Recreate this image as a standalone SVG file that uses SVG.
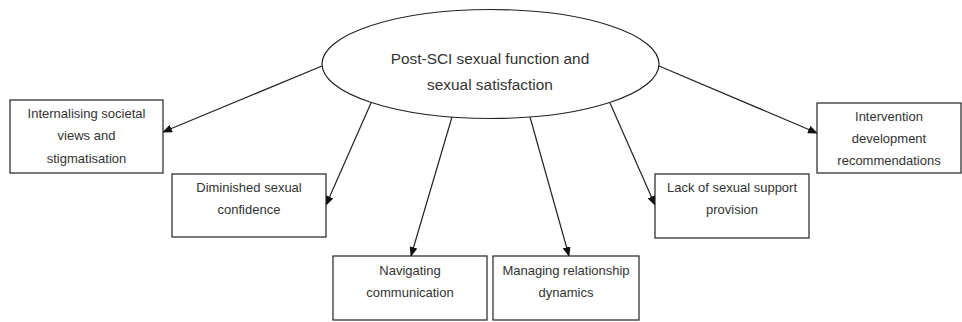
<svg xmlns="http://www.w3.org/2000/svg" width="962" height="322" viewBox="0 0 962 322">
<style>
.box{fill:#fff;stroke:#222;stroke-width:1.2}
.t{font-family:"Liberation Sans",Arial,sans-serif;font-size:13px;fill:#333;text-anchor:middle}
.tm{font-family:"Liberation Sans",Arial,sans-serif;font-size:15.4px;fill:#333;text-anchor:middle}
.c{stroke:#222;stroke-width:1.2;fill:none;marker-end:url(#ah)}
</style>
<defs>
<marker id="ah" markerWidth="10" markerHeight="8" refX="9" refY="4" orient="auto" markerUnits="userSpaceOnUse">
<path d="M0,0 L10,4 L0,8 Z" fill="#111"/>
</marker>
</defs>
<rect width="962" height="322" fill="#fff"/>
<g id="connectors">
<line class="c" x1="322" y1="66" x2="163" y2="132"/>
<line class="c" x1="371" y1="103" x2="326" y2="205"/>
<line class="c" x1="452" y1="117" x2="411" y2="256"/>
<line class="c" x1="530" y1="117" x2="569" y2="256"/>
<line class="c" x1="610" y1="103" x2="655" y2="205"/>
<line class="c" x1="659" y1="66" x2="817" y2="133"/>
</g>
<g id="center">
<ellipse cx="490.5" cy="64" rx="168.5" ry="54.5" fill="#fff" stroke="#222" stroke-width="1.2"/>
<text class="tm" x="490" y="64">Post-SCI sexual function and</text>
<text class="tm" x="490" y="90">sexual satisfaction</text>
</g>
<g id="n1">
<rect class="box" x="10" y="100" width="153" height="73"/>
<text class="t" x="86.5" y="118">Internalising societal</text>
<text class="t" x="86.5" y="140">views and</text>
<text class="t" x="86.5" y="163">stigmatisation</text>
</g>
<g id="n2">
<rect class="box" x="172" y="174" width="154" height="63"/>
<text class="t" x="249" y="192">Diminished sexual</text>
<text class="t" x="249" y="214">confidence</text>
</g>
<g id="n3">
<rect class="box" x="333" y="256" width="154" height="64"/>
<text class="t" x="410" y="275">Navigating</text>
<text class="t" x="410" y="297">communication</text>
</g>
<g id="n4">
<rect class="box" x="493" y="256" width="146" height="64"/>
<text class="t" x="566" y="275">Managing relationship</text>
<text class="t" x="566" y="297">dynamics</text>
</g>
<g id="n5">
<rect class="box" x="655" y="174" width="154" height="64"/>
<text class="t" x="732" y="192">Lack of sexual support</text>
<text class="t" x="732" y="214">provision</text>
</g>
<g id="n6">
<rect class="box" x="817" y="103" width="144" height="70"/>
<text class="t" x="889" y="121">Intervention</text>
<text class="t" x="889" y="143">development</text>
<text class="t" x="889" y="165">recommendations</text>
</g>
</svg>
